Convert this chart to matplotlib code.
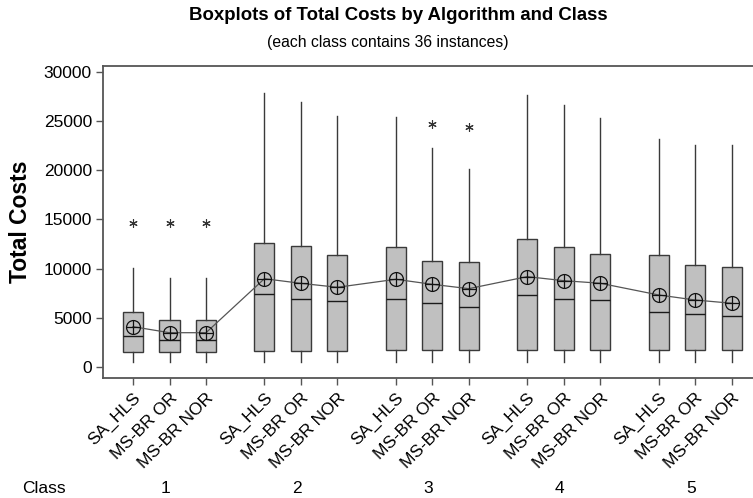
import matplotlib
matplotlib.use("Agg")
import matplotlib.pyplot as plt
import matplotlib.transforms as mtransforms

plt.rcParams["font.family"] = ["Liberation Sans", "DejaVu Sans"]

classes = ["1", "2", "3", "4", "5"]
algorithms = ["SA_HLS", "MS-BR OR", "MS-BR NOR"]

# per box, ordered class 1..5, algorithm SA_HLS, MS-BR OR, MS-BR NOR
whisker_low = [500, 500, 500, 500, 500, 500, 500, 500, 500, 500, 500, 500, 500, 500, 500]
q1 = [1520, 1520, 1520, 1650, 1650, 1650, 1720, 1720, 1720, 1720, 1720, 1720, 1720, 1720, 1720]
median = [3180, 2800, 2800, 7410, 6930, 6700, 6900, 6500, 6150, 7310, 6900, 6800, 5610, 5410, 5240]
q3 = [5580, 4770, 4770, 12650, 12280, 11370, 12180, 10820, 10650, 13020, 12180, 11500, 11370, 10350, 10180]
whisker_high = [10050, 9100, 9100, 27870, 26960, 25540, 25440, 22290, 20140, 27600, 26620, 25270, 23140, 22560, 22560]
means = [4120, 3510, 3510, 8990, 8520, 8120, 8930, 8420, 7980, 9200, 8790, 8530, 7340, 6830, 6500]
outliers = [[14610], [14610], [14610], [], [], [], [], [24690], [24360], [], [], [], [], [], []]

fig = plt.figure(figsize=(7.53, 4.98), dpi=100)
ax = fig.add_axes([0.1368, 0.241, 0.8672, 0.6265])

group_step = 3.6
positions = [c * group_step + j for c in range(len(classes)) for j in range(len(algorithms))]
labels = [a for _ in classes for a in algorithms]

stats = []
for i in range(len(positions)):
    stats.append({"whislo": whisker_low[i], "q1": q1[i], "med": median[i], "q3": q3[i],
                  "whishi": whisker_high[i], "mean": means[i], "fliers": outliers[i]})

ax.bxp(stats, positions=positions, widths=0.55, patch_artist=True, showcaps=False,
       showmeans=False,
       boxprops=dict(facecolor="#c0c0c0", edgecolor="#3a3a3a", linewidth=1.0),
       whiskerprops=dict(color="#3a3a3a", linewidth=1.0),
       medianprops=dict(color="#1a1a1a", linewidth=1.0),
       flierprops=dict(marker=(6, 2, 0), markersize=6, markeredgecolor="#333333",
                       markeredgewidth=0.8, linestyle="none"))

# mean symbols (circle with cross) joined by a line
ax.plot(positions, means, color="#555555", linewidth=0.9, zorder=4)
ax.plot(positions, means, linestyle="none", marker="o", markersize=10,
        markerfacecolor="none", markeredgecolor="#111111", markeredgewidth=0.9, zorder=5)
ax.plot(positions, means, linestyle="none", marker="+", markersize=10,
        markeredgecolor="#111111", markeredgewidth=0.9, zorder=5)

ax.set_xlim(-0.822, 17.07)
ax.set_ylim(-1086, 30580)
ax.set_yticks([0, 5000, 10000, 15000, 20000, 25000, 30000])
ax.set_xticks(positions)
ax.set_xticklabels(labels, rotation=45, ha="right", rotation_mode="anchor", fontsize=12.5)
ax.tick_params(axis="y", labelsize=12.5, length=5, width=1.0, color="#555555", pad=3)
ax.tick_params(axis="x", length=5, width=1.0, color="#555555", pad=4)
for s in ax.spines.values():
    s.set_color("#555555")
    s.set_linewidth(1.3)

ax.set_ylabel("Total Costs", fontsize=16.5, fontweight="bold", labelpad=8)

fig.text(398 / 753, 1 - 15 / 498, "Boxplots of Total Costs by Algorithm and Class",
         ha="center", va="center", fontsize=13.4, fontweight="bold")
fig.text(388 / 753, 1 - 43 / 498, "(each class contains 36 instances)",
         ha="center", va="center", fontsize=11.3)

trans = mtransforms.blended_transform_factory(ax.transData, fig.transFigure)
fig.text(22 / 753, 1 - 488 / 498, "Class", ha="left", va="center", fontsize=12.5)
for c, name in enumerate(classes):
    ax.text(c * group_step + 1 - 0.12, 1 - 488 / 498, name, transform=trans,
            ha="center", va="center", fontsize=12.5)

fig.savefig("out.png", dpi=100)
